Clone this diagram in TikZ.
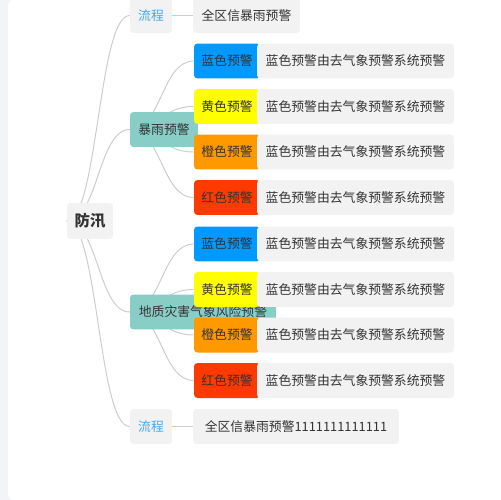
\documentclass[tikz,border=0pt]{standalone}
\usepackage{fontspec}
\setmainfont{Noto Sans CJK SC}
\usepackage{tikz}
\usetikzlibrary{calc,backgrounds}
\definecolor{sidegray}{RGB}{243,244,248}
\definecolor{boxgray}{RGB}{242,242,242}
\definecolor{linkgray}{RGB}{204,204,204}
\definecolor{textgray}{RGB}{51,51,51}
\definecolor{flowblue}{RGB}{64,168,245}
\definecolor{catteal}{RGB}{136,206,199}
\definecolor{warnblue}{RGB}{0,153,255}
\definecolor{warnyellow}{RGB}{255,255,0}
\definecolor{warnorange}{RGB}{255,153,0}
\definecolor{warnred}{RGB}{255,58,0}

\begin{document}
\begin{tikzpicture}[x=0.02cm, y=-0.02cm,
        base/.style={rounded corners=2pt, inner sep=0pt, minimum height=0.7cm,
                     text=textgray, font=\fontsize{7.3}{8}\selectfont},
        rootbox/.style={base, fill=boxgray, minimum width=0.92cm, minimum height=0.72cm,
                        font=\fontsize{8.8}{10}\selectfont\bfseries},
        flowbox/.style={base, fill=boxgray, minimum width=0.84cm, text=flowblue},
        catbox/.style={base, fill=catteal},
        lvlbox/.style={base, minimum width=1.32cm},
        descbox/.style={base, fill=boxgray, minimum width=3.94cm},
        link/.style={draw=linkgray, line width=0.55pt,
                     to path={let \p1=(\tikztostart), \p2=(\tikztotarget) in
                       .. controls ({(\x1+\x2)/2},\y1) and ({(\x1+\x2)/2},\y2) .. (\tikztotarget)}}
    ]
    \useasboundingbox (0,0) rectangle (500,500);
    \node[rootbox] (root) at (90,221) {防汛};
    % top branch
    \node[flowbox] (flowa) at (151,15.5) {流程};
    \node[descbox, minimum width=2.14cm] (flowatxt) at (246.5,15.5) {全区信暴雨预警};
    % rainstorm branch
    \node[catbox, minimum width=1.36cm] (rain) at (164,129.5) {暴雨预警};
    \node[lvlbox, fill=warnblue] (rainb) at (227,61) {蓝色预警};
    \node[lvlbox, fill=warnyellow] (rainy) at (227,106.5) {黄色预警};
    \node[lvlbox, fill=warnorange] (raino) at (227,152) {橙色预警};
    \node[lvlbox, fill=warnred] (rainr) at (227,197.5) {红色预警};
    \node[descbox] (rainbtxt) at (355.5,61) {蓝色预警由去气象预警系统预警};
    \node[descbox] (rainytxt) at (355.5,106.5) {蓝色预警由去气象预警系统预警};
    \node[descbox] (rainotxt) at (355.5,152) {蓝色预警由去气象预警系统预警};
    \node[descbox] (rainrtxt) at (355.5,197.5) {蓝色预警由去气象预警系统预警};
    % geological branch
    \node[catbox, minimum width=2.92cm] (geo) at (203,312) {地质灾害气象风险预警};
    \node[lvlbox, fill=warnblue] (geob) at (227,244) {蓝色预警};
    \node[lvlbox, fill=warnyellow] (geoy) at (227,289.5) {黄色预警};
    \node[lvlbox, fill=warnorange] (geoo) at (227,335) {橙色预警};
    \node[lvlbox, fill=warnred] (geor) at (227,380.5) {红色预警};
    \node[descbox] (geobtxt) at (355.5,244) {蓝色预警由去气象预警系统预警};
    \node[descbox] (geoytxt) at (355.5,289.5) {蓝色预警由去气象预警系统预警};
    \node[descbox] (geootxt) at (355.5,335) {蓝色预警由去气象预警系统预警};
    \node[descbox] (geortxt) at (355.5,380.5) {蓝色预警由去气象预警系统预警};
    % bottom branch
    \node[flowbox] (flowb) at (151,426.5) {流程};
    \node[descbox, minimum width=4.12cm] (flowbtxt) at (296,426.5) {全区信暴雨预警1111111111111};
    \begin{pgfonlayer}{background}
    \fill[sidegray] (0,0) rectangle (500,500);
    \fill[white, rounded corners=3pt] (8,0) rectangle (520,500);
    \draw[link] (root.west) to (flowa.west);
    \draw[link] (root.west) to (rain.west);
    \draw[link] (root.west) to (geo.west);
    \draw[link] (root.west) to (flowb.west);
    \draw[link] (flowa.west) to (flowatxt.west);
    \draw[link] (flowb.west) to (flowbtxt.west);
    \draw[link] (rain.west) to (rainb.west);
    \draw[link] (rain.west) to (rainy.west);
    \draw[link] (rain.west) to (raino.west);
    \draw[link] (rain.west) to (rainr.west);
    \draw[link] (geo.west) to (geob.west);
    \draw[link] (geo.west) to (geoy.west);
    \draw[link] (geo.west) to (geoo.west);
    \draw[link] (geo.west) to (geor.west);
    \end{pgfonlayer}
\end{tikzpicture}
\end{document}
